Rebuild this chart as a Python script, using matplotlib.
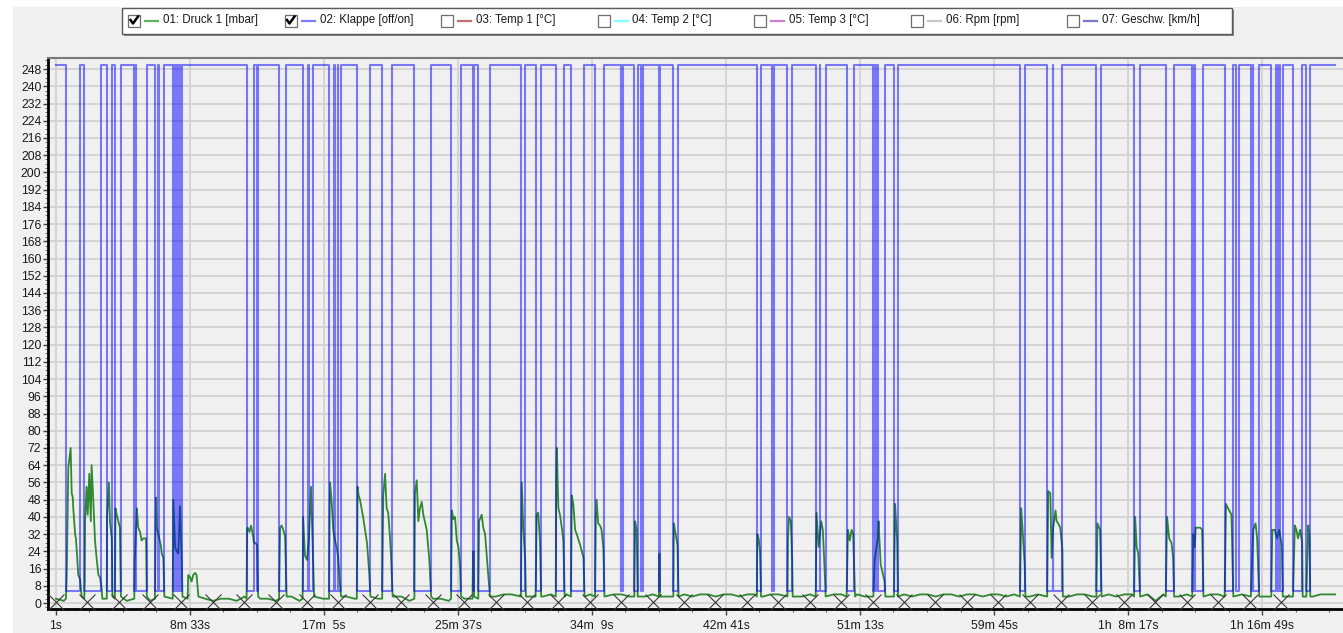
import numpy as np
import matplotlib
matplotlib.use("Agg")
import matplotlib.pyplot as plt
from matplotlib.patches import Rectangle
from matplotlib.lines import Line2D
from matplotlib.ticker import FixedLocator, MultipleLocator

plt.rcParams['font.family'] = ['Liberation Sans', 'DejaVu Sans']

# ---------------- data ----------------
legend_labels = ["01: Druck 1 [mbar]", "02: Klappe [off/on]", "03: Temp 1 [°C]",
                 "04: Temp 2 [°C]", "05: Temp 3 [°C]", "06: Rpm [rpm]", "07: Geschw. [km/h]"]
legend_checked = [True, True, False, False, False, False, False]
legend_colors = ["#5fb05f", "#7b7bff", "#c07070", "#80ffff", "#d080d0", "#c8c8c8", "#7878c8"]

x_tick_seconds = [1, 513, 1025, 1537, 2049, 2561, 3073, 3585, 4097, 4609]
x_tick_labels = ["1s", "8m 33s", "17m  5s", "25m 37s", "34m  9s", "42m 41s",
                 "51m 13s", "59m 45s", "1h  8m 17s", "1h 16m 49s"]
y_tick_values = [0, 8, 16, 24, 32, 40, 48, 56, 64, 72, 80, 88, 96, 104, 112, 120, 128,
                 136, 144, 152, 160, 168, 176, 184, 192, 200, 208, 216, 224, 232, 240, 248]

# event markers (X) along the bottom, seconds
marker_seconds = [0, 120, 240, 360, 480, 600, 720, 840, 960, 1080, 1200, 1320, 1440, 1560,
                  1680, 1800, 1920, 2040, 2160, 2280, 2400, 2520, 2640, 2760, 2880, 3000,
                  3120, 3240, 3360, 3480, 3600, 3720, 3840, 3960, 4080, 4200, 4320, 4440,
                  4560, 4680]

# 02: Klappe [off/on]  -- on level, off level and off intervals (seconds)
klappe_on = 250
klappe_off = 5.5
klappe_start = 1
klappe_end = 4887
klappe_off_intervals = [
    (39, 93), (109, 173), (195, 214), (226, 248),
    (300, 302), (303, 305), (306, 347),
    (379, 391), (393, 414),
    (447, 450), (451, 454), (456, 459), (460, 463), (465, 468), (469, 472), (474, 477), (478, 481),
    (729, 759), (769, 771), (853, 880),
    (943, 964), (966, 984),
    (1044, 1063), (1065, 1078), (1080, 1089),
    (1150, 1200), (1247, 1286), (1370, 1432), (1510, 1547), (1592, 1598), (1614, 1659),
    (1777, 1793), (1833, 1853), (1910, 1943), (1968, 2018), (2060, 2095),
    (2159, 2161), (2162, 2166), (2210, 2223), (2236, 2238), (2239, 2242),
    (2304, 2308), (2359, 2378), (2678, 2693),
    (2737, 2739), (2740, 2745), (2795, 2814),
    (2903, 2918), (2920, 2941), (3021, 3050),
    (3123, 3125), (3126, 3128), (3129, 3131), (3132, 3134), (3136, 3138), (3141, 3168),
    (3202, 3216), (3683, 3703),
    (3787, 3808), (3810, 3845),
    (3975, 3994), (4119, 4141), (4240, 4271),
    (4341, 4349), (4351, 4383),
    (4465, 4497), (4510, 4519), (4565, 4572), (4574, 4596),
    (4643, 4661), (4663, 4674), (4676, 4686),
    (4726, 4762), (4777, 4790),
]

# 01: Druck 1 [mbar] -- idle baseline sampled every 30 s from t=1 s
druck_base_step = 30
druck_base_values = [
    2, 1, 2, 2, 1, 3, 2, 1, 2, 1,  2, 3, 1, 2, 2, 1, 2, 1, 3, 2,
    1, 2, 2, 1, 3, 1, 2, 2, 1, 2,  3, 1, 2, 1, 2, 2, 1, 3, 2, 1,
    2, 2, 1, 2, 3, 1, 2, 1, 2, 2,  1, 3, 2, 1, 2,
    4, 3, 4, 4, 3, 4, 4, 3, 4, 3,  4, 4, 3, 4, 4, 3, 4, 4, 3, 4,
    3, 4, 4, 3, 4, 4, 3, 4, 4, 3,  4, 4, 3, 4, 4, 3, 4, 4, 2, 2,
    3, 4, 4, 3, 4, 4, 3, 4, 3, 4,  4, 3, 4, 4, 3, 4, 4, 3, 4, 4,
    3, 4, 4, 3, 4, 4, 3, 4, 4, 3,  4, 4, 3, 4, 3, 4, 4, 3, 4, 4,
    3, 4, 4, 3, 4, 1, 4, 4, 3, 4,  4, 3, 4, 4, 3, 4, 4, 1, 4, 3,
    4, 4, 3, 4, 4, 3, 4, 4,
]
druck_end = (4887, 4)

# pressure build-up events (time s, mbar)
druck_events = [
    [(39, 2), (42, 13), (48, 63), (57, 72), (61, 51), (65, 49), (67, 44), (74, 32), (77, 30), (82, 21), (86, 13), (93, 11), (99, 3)],
    [(109, 2), (111, 10), (112, 38), (118, 54), (122, 41), (128, 60), (134, 38), (137, 64), (143, 49), (150, 29), (156, 21), (163, 13), (169, 12), (175, 7), (178, 2)],
    [(195, 2), (196, 40), (203, 56), (207, 38), (214, 30), (217, 3)],
    [(226, 2), (228, 44), (233, 41), (239, 38), (245, 35), (249, 3)],
    [(300, 2), (302, 20), (310, 44), (315, 35), (322, 33), (328, 29), (335, 30), (345, 30), (348, 3)],
    [(379, 2), (381, 30), (383, 49), (386, 35), (392, 32), (401, 27), (405, 23), (411, 21), (415, 3)],
    [(447, 2), (449, 48), (456, 26), (462, 24), (468, 23), (475, 45), (481, 22), (484, 3)],
    [(504, 2), (506, 13), (513, 12), (519, 10), (525, 13), (532, 14), (538, 13), (545, 3)],
    [(729, 2), (731, 34), (733, 35), (740, 33), (746, 36), (754, 31), (757, 28), (761, 28), (769, 27), (773, 3)],
    [(853, 2), (857, 35), (863, 36), (869, 34), (876, 31), (882, 3)],
    [(943, 2), (945, 40), (952, 22), (960, 20), (967, 30), (975, 54), (983, 20), (987, 3)],
    [(1044, 2), (1046, 40), (1048, 56), (1054, 47), (1060, 34), (1067, 29), (1073, 26), (1079, 21), (1086, 8), (1090, 3)],
    [(1150, 2), (1153, 54), (1157, 50), (1162, 48), (1174, 40), (1189, 28), (1198, 13), (1202, 3)],
    [(1247, 2), (1251, 50), (1258, 60), (1264, 44), (1270, 42), (1277, 30), (1281, 21), (1287, 3)],
    [(1370, 2), (1372, 51), (1379, 57), (1385, 38), (1391, 44), (1398, 47), (1404, 41), (1417, 34), (1427, 20), (1434, 3)],
    [(1510, 2), (1513, 43), (1519, 39), (1525, 40), (1532, 29), (1538, 26), (1544, 18), (1548, 3)],
    [(1592, 2), (1594, 24), (1597, 24), (1598, 3)],
    [(1614, 2), (1617, 38), (1627, 41), (1633, 35), (1640, 32), (1652, 13), (1659, 3)],
    [(1777, 3), (1780, 56), (1786, 35), (1793, 20), (1796, 3)],
    [(1833, 3), (1837, 41), (1843, 42), (1850, 28), (1854, 3)],
    [(1910, 3), (1912, 60), (1914, 72), (1920, 44), (1926, 41), (1933, 35), (1939, 29), (1944, 3)],
    [(1968, 3), (1971, 50), (1977, 46), (1984, 34), (1990, 32), (2003, 27), (2016, 21), (2020, 3)],
    [(2060, 3), (2063, 40), (2066, 48), (2072, 37), (2079, 36), (2085, 34), (2092, 25), (2096, 3)],
    [(2210, 3), (2213, 38), (2219, 34), (2223, 3)],
    [(2304, 3), (2305, 23), (2307, 23), (2308, 3)],
    [(2359, 3), (2361, 37), (2365, 34), (2375, 27), (2379, 3)],
    [(2678, 3), (2680, 32), (2685, 30), (2690, 24), (2694, 3)],
    [(2795, 3), (2797, 30), (2801, 40), (2808, 38), (2813, 20), (2815, 3)],
    [(2903, 3), (2906, 42), (2914, 26), (2924, 38), (2930, 34), (2936, 18), (2941, 3)],
    [(3021, 3), (3026, 34), (3033, 29), (3040, 34), (3046, 32), (3050, 16), (3053, 3)],
    [(3123, 3), (3128, 20), (3140, 30), (3143, 38), (3151, 18), (3166, 10), (3169, 3)],
    [(3202, 3), (3206, 46), (3214, 29), (3217, 3)],
    [(3683, 3), (3688, 44), (3695, 30), (3701, 18), (3704, 3)],
    [(3787, 3), (3791, 52), (3799, 51), (3804, 21), (3810, 35), (3819, 43), (3823, 38), (3829, 37), (3837, 35), (3845, 25), (3847, 3)],
    [(3975, 3), (3979, 37), (3989, 34), (3995, 3)],
    [(4119, 3), (4123, 40), (4129, 26), (4135, 23), (4142, 3)],
    [(4240, 3), (4245, 40), (4253, 30), (4262, 28), (4268, 21), (4272, 3)],
    [(4341, 3), (4345, 32), (4351, 26), (4354, 35), (4360, 35), (4372, 35), (4379, 34), (4384, 3)],
    [(4465, 3), (4470, 46), (4478, 44), (4491, 41), (4498, 3)],
    [(4565, 3), (4574, 34), (4583, 37), (4589, 30), (4597, 3)],
    [(4643, 3), (4647, 34), (4656, 34), (4665, 30), (4673, 34), (4683, 27), (4687, 3)],
    [(4726, 3), (4733, 36), (4739, 34), (4745, 30), (4753, 34), (4761, 28), (4763, 3)],
    [(4777, 3), (4784, 36), (4789, 30), (4792, 3)],
]

# ---------------- build series ----------------
k_t, k_v = [klappe_start], [klappe_on]
for s, e in klappe_off_intervals:
    k_t += [s, s, e, e]
    k_v += [klappe_on, klappe_off, klappe_off, klappe_on]
k_t.append(klappe_end)
k_v.append(klappe_on)

base_t = [1 + druck_base_step * i for i in range(len(druck_base_values))]
def inside_event(t):
    for ev in druck_events:
        if ev[0][0] - 6 <= t <= ev[-1][0] + 6:
            return True
    return False
pts = [(t, v) for t, v in zip(base_t, druck_base_values) if not inside_event(t)]
for ev in druck_events:
    pts.extend(ev)
pts.append(druck_end)
pts.sort()
d_t = [p[0] for p in pts]
d_v = [p[1] for p in pts]

# ---------------- figure ----------------
W, H = 1343, 633
fig = plt.figure(figsize=(W / 100, H / 100), dpi=100, facecolor="#f0f0f0")

def fx(x):
    return x / W
def fy(y):
    return 1 - y / H

# white margins
fig.patches.append(Rectangle((0, 0), fx(13), 1, transform=fig.transFigure,
                             facecolor="white", edgecolor="none", zorder=0))
fig.patches.append(Rectangle((0, fy(7)), 1, 7 / H, transform=fig.transFigure,
                             facecolor="white", edgecolor="none", zorder=0))

ax_l, ax_r, ax_t, ax_b = 48.3, 1343, 58.3, 608.5
ax = fig.add_axes([fx(ax_l), fy(ax_b), (ax_r - ax_l) / W, (ax_b - ax_t) / H])
ax.set_facecolor("#f0f0f0")

ax.plot(d_t, d_v, color="#007000", alpha=0.8, lw=1.3, zorder=3)
ax.plot(k_t, k_v, color="#0000ff", alpha=0.5, lw=1.5, zorder=4)
ax.plot(marker_seconds, [0.5] * len(marker_seconds), linestyle="none", marker="x",
        markersize=11, markeredgewidth=0.8, color="#383838", zorder=5, clip_on=False)

ax.set_xlim(-28.4, 4917)
ax.set_ylim(-2.55, 253.0)

ax.xaxis.set_major_locator(FixedLocator(x_tick_seconds))
ax.set_xticklabels(x_tick_labels)
ax.xaxis.set_minor_locator(MultipleLocator(128))
ax.yaxis.set_major_locator(FixedLocator(y_tick_values))
ax.set_yticklabels([str(v) for v in y_tick_values])
ax.yaxis.set_minor_locator(MultipleLocator(2))

ax.tick_params(axis="x", which="major", length=4, width=1, color="#404040",
               labelsize=8.8, labelcolor="#1a1a1a", pad=4.5, direction="out")
ax.tick_params(axis="x", which="minor", length=2.5, width=0.8, color="#606060", direction="out")
ax.tick_params(axis="y", which="major", length=3.5, width=1, color="#404040",
               labelsize=8.8, labelcolor="#1a1a1a", pad=1.5, direction="out")
ax.tick_params(axis="y", which="minor", length=2, width=0.7, color="#707070", direction="out")

ax.grid(True, which="major", axis="both", color="#d2d2d2", lw=1.3, zorder=1)
ax.set_axisbelow(True)

for s in ("left", "bottom"):
    ax.spines[s].set_color("black")
    ax.spines[s].set_linewidth(2.0)
ax.spines["top"].set_color("#7a7a7a")
ax.spines["top"].set_linewidth(1.5)
ax.spines["right"].set_visible(False)

# ---------------- legend (checkbox strip) ----------------
lg_l, lg_r, lg_t, lg_b = 122, 1232, 8, 34
fig.patches.append(Rectangle((fx(lg_l + 2), fy(lg_b + 2)), (lg_r - lg_l) / W, (lg_b - lg_t) / H,
                             transform=fig.transFigure, facecolor="#8a8a8a", edgecolor="none", zorder=5))
fig.patches.append(Rectangle((fx(lg_l), fy(lg_b)), (lg_r - lg_l) / W, (lg_b - lg_t) / H,
                             transform=fig.transFigure, facecolor="white", edgecolor="#5a5a5a",
                             lw=1.0, zorder=6))
item_w = 156.5
cy = 20.5
for i, (lab, chk, col) in enumerate(zip(legend_labels, legend_checked, legend_colors)):
    x0 = 128 + item_w * i
    fig.patches.append(Rectangle((fx(x0), fy(cy + 6)), 12 / W, 12 / H, transform=fig.transFigure,
                                 facecolor="white", edgecolor="#6e6e6e", lw=0.9, zorder=7))
    if chk:
        fig.lines.append(Line2D([fx(x0 + 2.5), fx(x0 + 5), fx(x0 + 10)],
                                [fy(cy - 0.5), fy(cy + 3), fy(cy - 4)],
                                transform=fig.transFigure, color="black", lw=1.8, zorder=8))
    fig.lines.append(Line2D([fx(x0 + 17), fx(x0 + 30)], [fy(cy), fy(cy)],
                            transform=fig.transFigure, color=col, lw=1.6, zorder=8))
    fig.text(fx(x0 + 35), fy(cy), lab, fontsize=8.3, color="#1a1a1a",
             va="center", ha="left", zorder=8)

fig.savefig("out.png", dpi=100, facecolor=fig.get_facecolor())
